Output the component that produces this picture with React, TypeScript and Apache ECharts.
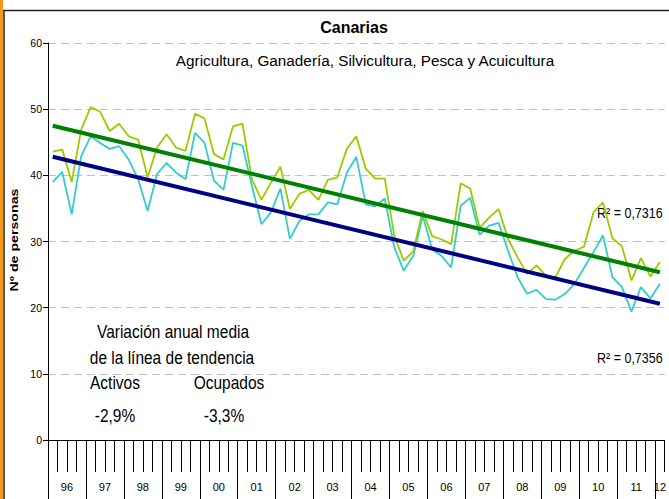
import React, { useEffect, useRef } from 'react';
import * as echarts from 'echarts';

const FONT = '"Liberation Sans", Arial, sans-serif';

const yearLabels = ['96', '97', '98', '99', '00', '01', '02', '03', '04', '05', '06', '07', '08', '09', '10', '11', '12'];
const quarterNames = ['T1', 'T2', 'T3', 'T4'];
const categories = yearLabels.flatMap((y) => quarterNames.map((q) => y + q)).slice(0, 65);

const activos = [
  43.6, 43.9, 39.0, 46.9, 50.3, 49.6, 46.7, 47.8, 45.9, 45.4, 39.7, 44.2, 46.2,
  44.2, 43.7, 49.3, 48.6, 43.2, 42.4, 47.4, 47.8, 39.4, 36.3, 38.9, 41.3, 34.9,
  37.2, 37.8, 36.3, 39.3, 39.7, 44.0, 45.9, 41.0, 39.5, 39.5, 30.9, 27.1, 28.5,
  34.6, 30.8, 30.3, 29.6, 38.8, 38.0, 32.1, 33.6, 34.9, 30.4, 27.6, 25.1, 26.4,
  24.8, 24.6, 27.4, 28.6, 29.2, 34.4, 35.9, 30.5, 29.3, 24.1, 27.5, 24.7, 26.9,
];

const ocupados = [
  39.0, 40.5, 34.1, 42.9, 45.9, 44.9, 44.0, 44.4, 42.4, 39.4, 34.6, 40.2, 41.9,
  40.4, 39.4, 46.4, 44.9, 39.2, 37.8, 44.9, 44.5, 38.4, 32.6, 34.4, 38.0, 30.4,
  33.1, 34.1, 34.1, 35.9, 35.6, 40.4, 42.8, 35.6, 35.3, 36.5, 29.1, 25.6, 27.8,
  33.9, 28.8, 27.8, 26.1, 35.4, 36.6, 31.0, 32.4, 32.8, 28.6, 24.6, 22.1, 22.7,
  21.3, 21.2, 22.1, 23.6, 26.0, 28.4, 30.9, 24.6, 23.1, 19.4, 23.1, 21.4, 23.6,
];

// trend line values at first and last quarter
const trendActivos = [47.5, 25.35];
const trendOcupados = [42.8, 20.6];

const yTicks = [0, 10, 20, 30, 40, 50, 60];

function trendData(ends: number[]) {
  return categories.map((_, i) => (i === 0 ? ends[0] : i === categories.length - 1 ? ends[1] : null));
}

function note(text: string, x: number, y: number) {
  return {
    type: 'text',
    x,
    y,
    scaleY: 1.15,
    style: { text, fontFamily: FONT, fontSize: 15.5, fill: '#000', align: 'center', verticalAlign: 'middle' },
    silent: true,
  };
}

export default function App() {
  const ref = useRef<HTMLDivElement>(null);

  useEffect(() => {
    if (!ref.current) return;
    const chart = echarts.init(ref.current, undefined, { renderer: 'svg' });
    const n = categories.length;
    const yearTickPos = yearLabels.map((_, i) => i * 4);
    const yearLabelPos = yearLabels.map((_, i) => Math.min(i * 4 + 2, (n - 1 + n) / 2));

    chart.setOption({
      animation: false,
      backgroundColor: '#ffffff',
      title: [
        {
          text: 'Canarias',
          left: 354,
          top: 19,
          textAlign: 'center',
          padding: 0,
          textStyle: { fontFamily: FONT, fontSize: 16, fontWeight: 'bold', color: '#000' },
        },
        {
          text: 'Agricultura, Ganadería, Silvicultura, Pesca y Acuicultura',
          left: 365,
          top: 53,
          textAlign: 'center',
          padding: 0,
          textStyle: { fontFamily: FONT, fontSize: 15.3, fontWeight: 'normal', color: '#000' },
        },
      ],
      grid: { left: 48, top: 43, width: 619, height: 397 },
      xAxis: [
        {
          type: 'category',
          data: categories,
          boundaryGap: true,
          position: 'bottom',
          axisLine: { show: true, lineStyle: { color: '#000', width: 1 } },
          axisTick: { show: true, interval: 0, length: 32, lineStyle: { color: '#000', width: 1 } },
          axisLabel: { show: false },
          splitLine: { show: false },
        },
        {
          type: 'value',
          min: 0,
          max: n,
          position: 'bottom',
          axisLine: { show: false },
          splitLine: { show: false },
          axisTick: { show: true, customValues: yearTickPos, length: 60, lineStyle: { color: '#000', width: 1 } },
          axisLabel: {
            show: true,
            customValues: yearLabelPos,
            margin: 41,
            fontFamily: FONT,
            fontSize: 11,
            color: '#000',
            formatter: (v: number) => yearLabels[Math.floor(v / 4)] ?? '',
          },
        },
      ],
      yAxis: {
        type: 'value',
        min: 0,
        max: 60,
        interval: 10,
        axisLine: { show: true, lineStyle: { color: '#000', width: 1 } },
        axisTick: { show: true, length: 5, lineStyle: { color: '#000' } },
        axisLabel: { fontFamily: FONT, fontSize: 10.5, color: '#000', margin: 6, customValues: yTicks },
        splitLine: { show: true, lineStyle: { color: '#c0c0c0', type: [8, 5], width: 1 } },
      },
      graphic: [
        { type: 'rect', shape: { x: 0, y: 0, width: 3, height: 499 }, style: { fill: '#f39a1c' }, silent: true },
        { type: 'line', shape: { x1: 3, y1: 10.5, x2: 669, y2: 10.5 }, style: { stroke: '#222', lineWidth: 1.5 }, silent: true },
        { type: 'line', shape: { x1: 4, y1: 10, x2: 4, y2: 499 }, style: { stroke: '#222', lineWidth: 1.5 }, silent: true },
        {
          type: 'text', x: 15, y: 240, rotation: Math.PI / 2, scaleX: 1.35,
          style: { text: 'Nº de personas', fontFamily: FONT, fontSize: 10.5, fontWeight: 'bold', fill: '#000', align: 'center', verticalAlign: 'middle' },
          silent: true,
        },
        note('Variación anual media', 173, 332),
        note('de la línea de tendencia', 172, 358),
        note('Activos', 115, 383),
        note('Ocupados', 229, 383),
        note('-2,9%', 115, 416),
        note('-3,3%', 224, 416),
        { type: 'text', x: 597, y: 213, scaleY: 1.15, style: { text: 'R² = 0,7316', fontFamily: FONT, fontSize: 12.5, fill: '#000', align: 'left', verticalAlign: 'middle' }, silent: true },
        { type: 'text', x: 597, y: 358, scaleY: 1.15, style: { text: 'R² = 0,7356', fontFamily: FONT, fontSize: 12.5, fill: '#000', align: 'left', verticalAlign: 'middle' }, silent: true },
      ],
      series: [
        {
          name: 'Ocupados',
          type: 'line',
          xAxisIndex: 0,
          data: ocupados,
          symbol: 'none',
          lineStyle: { color: '#33cccc', width: 1.8 },
          z: 2,
        },
        {
          name: 'Activos',
          type: 'line',
          xAxisIndex: 0,
          data: activos,
          symbol: 'none',
          lineStyle: { color: '#99cc00', width: 1.8 },
          z: 2,
        },
        {
          name: 'Tendencia Activos',
          type: 'line',
          xAxisIndex: 0,
          data: trendData(trendActivos),
          connectNulls: true,
          symbol: 'none',
          lineStyle: { color: '#008000', width: 4 },
          z: 3,
        },
        {
          name: 'Tendencia Ocupados',
          type: 'line',
          xAxisIndex: 0,
          data: trendData(trendOcupados),
          connectNulls: true,
          symbol: 'none',
          lineStyle: { color: '#000080', width: 4 },
          z: 3,
        },
      ],
    });

    return () => chart.dispose();
  }, []);

  return <div ref={ref} style={{ position: 'absolute', left: 0, top: 0, width: 669, height: 499 }} />;
}
